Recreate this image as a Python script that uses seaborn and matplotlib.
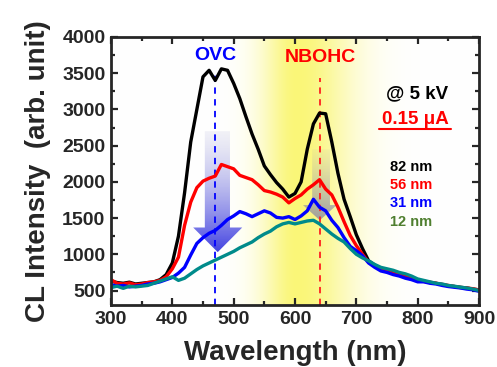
import numpy as np
import pandas as pd
import matplotlib
matplotlib.use("Agg")
import matplotlib.pyplot as plt
import seaborn as sns
from matplotlib.patches import Polygon

# ---------------- data ----------------
wavelength = list(range(300, 901, 10))

cl_82nm = [630, 610, 600, 615, 590, 600, 610, 620, 650, 720,
           880, 1250, 1850, 2550, 3000, 3450, 3540, 3400, 3560, 3540,
           3360, 3150, 2900, 2660, 2450, 2220, 2100, 1990, 1900, 1790,
           1840, 2000, 2450, 2800, 2950, 2940, 2550, 2120, 1760, 1520,
           1270, 1080, 910, 850, 800, 770, 740, 720, 690, 660,
           640, 630, 610, 600, 580, 565, 555, 545, 535, 520, 510]

cl_56nm = [650, 600, 590, 605, 580, 590, 610, 620, 640, 690,
           800, 960, 1400, 1720, 1920, 2010, 2050, 2080, 2240, 2210,
           2180, 2090, 2060, 2030, 1960, 1880, 1860, 1830, 1790, 1710,
           1770, 1820, 1900, 1960, 2030, 1900, 1820, 1650, 1450, 1260,
           1120, 1000, 890, 840, 790, 770, 735, 715, 690, 665,
           635, 625, 615, 600, 585, 570, 555, 540, 535, 525, 505]

cl_31nm = [580, 560, 570, 550, 560, 570, 590, 600, 620, 650,
           680, 740, 820, 990, 1150, 1230, 1290, 1330, 1400, 1480,
           1530, 1590, 1560, 1520, 1560, 1600, 1570, 1510, 1500, 1520,
           1480, 1530, 1600, 1760, 1650, 1600, 1470, 1370, 1230, 1110,
           1050, 980, 880, 820, 770, 750, 720, 700, 670, 650,
           620, 620, 600, 590, 570, 555, 545, 535, 520, 510, 490]

cl_12nm = [540, 560, 530, 560, 550, 560, 570, 600, 630, 660,
           690, 640, 670, 730, 790, 840, 880, 920, 960, 1000,
           1040, 1090, 1130, 1170, 1230, 1280, 1320, 1380, 1420, 1440,
           1420, 1440, 1460, 1470, 1420, 1350, 1280, 1220, 1170, 1080,
           1000, 950, 910, 860, 820, 800, 780, 750, 730, 700,
           660, 640, 620, 600, 590, 570, 560, 545, 535, 520, 500]

series_labels = ["82 nm", "56 nm", "31 nm", "12 nm"]
line_colors = ["#000000", "#ff0000", "#0000ff", "#008b8b"]
label_colors = ["#000000", "#ff0000", "#0000ff", "#4f7f2f"]

x_ticks = [300, 400, 500, 600, 700, 800, 900]
y_ticks = [500, 1000, 1500, 2000, 2500, 3000, 3500, 4000]

ovc_nm = 470
nbohc_nm = 641

# ---------------- style ----------------
sns.set_style("ticks")
plt.rcParams["font.family"] = ["Liberation Sans", "DejaVu Sans"]
plt.rcParams["font.weight"] = "bold"

fig = plt.figure(figsize=(4.97, 3.67), dpi=100)
ax = fig.add_axes([0.2233, 0.1689, 0.7405, 0.7303])

xmin, xmax, ymin, ymax = 300, 900, 300, 4000

# yellow background band
xs = np.linspace(xmin, xmax, 600)
prof = np.where(xs < 603, np.exp(-((xs - 603) / 58.0) ** 2),
                np.exp(-((xs - 603) / 90.0) ** 2))
yellow = np.array([250, 246, 120]) / 255.0
white = np.ones(3)
row = white[None, :] * (1 - prof[:, None]) + yellow[None, :] * prof[:, None]
img = np.repeat(row[None, :, :], 2, axis=0)
ax.imshow(img, extent=[xmin, xmax, ymin, ymax], aspect="auto", zorder=0,
          interpolation="bilinear")


def gradient_arrow(ax, x0, x1, hx0, hx1, ytop, yhead, ytip, ctop, cbot):
    xc = (hx0 + hx1) / 2
    verts = [(x0, ytop), (x1, ytop), (x1, yhead), (hx1, yhead), (xc, ytip),
             (hx0, yhead), (x0, yhead)]
    poly = Polygon(verts, closed=True, facecolor="none", edgecolor="none")
    ax.add_patch(poly)
    n = 256
    t = np.linspace(0, 1, n)[:, None]  # 0 at bottom, 1 at top
    ctop = np.array(ctop)
    cbot = np.array(cbot)
    grad = cbot[None, :] * (1 - t) + ctop[None, :] * t
    grad = np.repeat(grad[:, None, :], 2, axis=1)
    im = ax.imshow(grad, extent=[hx0, hx1, ytip, ytop], origin="lower",
                   aspect="auto", zorder=1, interpolation="bilinear")
    im.set_clip_path(poly)


# blue (OVC) arrow
gradient_arrow(ax, 453, 494, 434, 514, 2700, 1370, 1030,
               (0.80, 0.80, 0.90, 0.25), (0.22, 0.22, 0.88, 0.95))
# grey (NBOHC) arrow
gradient_arrow(ax, 628, 657, 613, 668, 2450, 1680, 1470,
               (0.70, 0.70, 0.72, 0.10), (0.50, 0.50, 0.65, 0.75))

# dashed markers
ax.plot([ovc_nm, ovc_nm], [ymin, 3470], color="#0000ff", lw=1.3,
        linestyle=(0, (3.5, 3)), zorder=3)
ax.plot([nbohc_nm, nbohc_nm], [ymin, 3430], color="#ff2020", lw=1.3,
        linestyle=(0, (3.5, 3)), zorder=3)

# spectra
df = pd.DataFrame({"wavelength": wavelength * 4,
                   "intensity": cl_82nm + cl_56nm + cl_31nm + cl_12nm,
                   "sample": sum([[s] * len(wavelength) for s in series_labels], [])})
for lab, col in zip(series_labels, line_colors):
    sub = df[df["sample"] == lab]
    sns.lineplot(data=sub, x="wavelength", y="intensity", color=col,
                 linewidth=2.4, ax=ax, zorder=4)

ax.set_xlim(xmin, xmax)
ax.set_ylim(ymin, ymax)
ax.set_xticks(x_ticks)
ax.set_yticks(y_ticks)
ax.set_xticks(np.arange(350, 900, 100), minor=True)
ax.set_yticks(np.arange(750, 4000, 500), minor=True)
ax.tick_params(which="both", direction="in", top=True, right=True, width=1.6)
ax.tick_params(which="major", length=5, labelsize=14, pad=4)
ax.tick_params(which="minor", length=3)
for lbl in ax.get_xticklabels() + ax.get_yticklabels():
    lbl.set_fontweight("bold")
for sp in ax.spines.values():
    sp.set_linewidth(2)
    sp.set_zorder(6)

ax.set_xlabel("Wavelength (nm)", fontsize=20, fontweight="bold", labelpad=9)
ax.set_ylabel("CL Intensity  (arb. unit)", fontsize=20, fontweight="bold", labelpad=8)

# annotations
ax.text(ovc_nm, 3742, "OVC", color="#0000ff", fontsize=14, fontweight="bold",
        ha="center", va="center", zorder=7)
ax.text(nbohc_nm, 3715, "NBOHC", color="#ff0000", fontsize=14, fontweight="bold",
        ha="center", va="center", zorder=7)
ax.text(0.832, 0.787, "@ 5 kV", transform=ax.transAxes, color="black",
        fontsize=13.5, fontweight="bold", ha="center", va="center", zorder=7)
ax.text(0.826, 0.694, "0.15 \u03bcA", transform=ax.transAxes, color="#ff0000",
        fontsize=13.5, fontweight="bold", ha="center", va="center", zorder=7)
ax.plot([0.727, 0.925], [0.655, 0.655], transform=ax.transAxes, color="#ff0000",
        lw=1.5, zorder=7)

ys = [0.516, 0.448, 0.379, 0.311]
for lab, col, yy in zip(series_labels, label_colors, ys):
    ax.text(0.758, yy, lab, transform=ax.transAxes, color=col, fontsize=10.5,
            fontweight="bold", ha="left", va="center", zorder=7)

fig.savefig("out.png", dpi=100)
